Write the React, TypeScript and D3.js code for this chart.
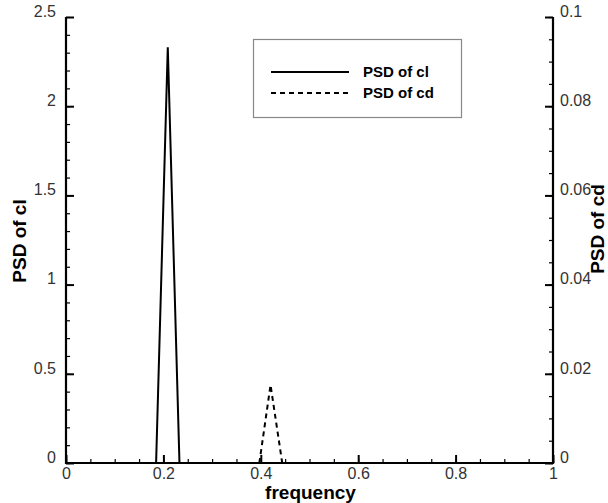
import React, { useRef, useEffect } from 'react';
import * as d3 from 'd3';

// spectra
const clFreq = [0.0, 0.185, 0.209, 0.233, 1.0];
const clPsd = [0, 0, 2.33, 0, 0];
const cdFreq = [0.397, 0.42, 0.444];
const cdPsd = [0, 0.0175, 0];

const xTicks = [0, 0.2, 0.4, 0.6, 0.8, 1];
const clTicks = [0, 0.5, 1, 1.5, 2, 2.5];
const cdTicks = [0, 0.02, 0.04, 0.06, 0.08, 0.1];
const legendLabels = ['PSD of cl', 'PSD of cd'];

const W = 608;
const H = 503;
const margin = { left: 66, right: 55, top: 17, bottom: 40 };
const FONT = 'Liberation Sans, Arial, sans-serif';

const App = () => {
  const svgRef = useRef<SVGSVGElement>(null);

  useEffect(() => {
    const svg = d3.select(svgRef.current);
    svg.selectAll('*').remove();

    const x = d3.scaleLinear().domain([0, 1]).range([margin.left, W - margin.right]);
    const yL = d3.scaleLinear().domain([0, 2.5]).range([H - margin.bottom, margin.top]);
    const yR = d3.scaleLinear().domain([0, 0.1]).range([H - margin.bottom, margin.top]);

    const tickText = (g) =>
      g.selectAll('text').attr('font-family', FONT).attr('font-size', 16).attr('fill', '#333');

    // minor ticks first
    svg.append('g')
      .attr('transform', `translate(0,${H - margin.bottom})`)
      .call(d3.axisBottom(x).tickValues(d3.range(0, 1.0001, 0.05)).tickSize(-4).tickFormat(() => ''))
      .call((g) => g.select('.domain').remove())
      .selectAll('line').attr('stroke-width', 1.2);
    svg.append('g')
      .attr('transform', `translate(${margin.left},0)`)
      .call(d3.axisLeft(yL).tickValues(d3.range(0, 2.5001, 0.1)).tickSize(-4).tickFormat(() => ''))
      .call((g) => g.select('.domain').remove())
      .selectAll('line').attr('stroke-width', 1.2);
    svg.append('g')
      .attr('transform', `translate(${W - margin.right},0)`)
      .call(d3.axisRight(yR).tickValues(d3.range(0, 0.10001, 0.005)).tickSize(-4).tickFormat(() => ''))
      .call((g) => g.select('.domain').remove())
      .selectAll('line').attr('stroke-width', 1.2);

    // major ticks
    svg.append('g')
      .attr('transform', `translate(0,${H - margin.bottom})`)
      .call(d3.axisBottom(x).tickValues(xTicks).tickSize(-8).tickPadding(5).tickFormat(d3.format('')))
      .call((g) => g.select('.domain').remove())
      .call((g) => g.selectAll('line').attr('stroke-width', 2))
      .call(tickText);
    svg.append('g')
      .attr('transform', `translate(${margin.left},0)`)
      .call(d3.axisLeft(yL).tickValues(clTicks).tickSize(-8).tickPadding(10).tickFormat(d3.format('')))
      .call((g) => g.select('.domain').remove())
      .call((g) => g.selectAll('line').attr('stroke-width', 2))
      .call(tickText)
      .call((g) => g.selectAll('text').attr('dy', '-0.05em'));
    svg.append('g')
      .attr('transform', `translate(${W - margin.right},0)`)
      .call(d3.axisRight(yR).tickValues(cdTicks).tickSize(-8).tickPadding(7).tickFormat(d3.format('')))
      .call((g) => g.select('.domain').remove())
      .call((g) => g.selectAll('line').attr('stroke-width', 2))
      .call(tickText)
      .call((g) => g.selectAll('text').attr('dy', '-0.05em'));

    // axis lines (no top border)
    const axisPath = d3.path();
    axisPath.moveTo(x(0), yL(2.5));
    axisPath.lineTo(x(0), yL(0));
    axisPath.lineTo(x(1), yL(0));
    axisPath.lineTo(x(1), yR(0.1));
    svg.append('path').attr('d', axisPath.toString()).attr('fill', 'none')
      .attr('stroke', '#000').attr('stroke-width', 2.2);

    // data
    const clLine = d3.line<number>().x((d, i) => x(clFreq[i])).y((d) => yL(d));
    const cdLine = d3.line<number>().x((d, i) => x(cdFreq[i])).y((d) => yR(d));
    svg.append('path').attr('d', clLine(clPsd)).attr('fill', 'none')
      .attr('stroke', '#000').attr('stroke-width', 2);
    svg.append('path').attr('d', cdLine(cdPsd)).attr('fill', 'none')
      .attr('stroke', '#000').attr('stroke-width', 2).attr('stroke-dasharray', '5,4');

    // axis titles
    svg.append('text').attr('x', (x(0) + x(1)) / 2 + 1).attr('y', 499)
      .attr('text-anchor', 'middle').attr('font-family', FONT).attr('font-weight', 'bold')
      .attr('font-size', 19).text('frequency');
    svg.append('text').attr('transform', `translate(26,241) rotate(-90)`)
      .attr('text-anchor', 'middle').attr('font-family', FONT).attr('font-weight', 'bold')
      .attr('font-size', 19).text('PSD of cl');
    svg.append('text').attr('transform', `translate(604,229) rotate(-90)`)
      .attr('text-anchor', 'middle').attr('font-family', FONT).attr('font-weight', 'bold')
      .attr('font-size', 19).text('PSD of cd');

    // legend
    const lg = svg.append('g');
    lg.append('rect').attr('x', 253.5).attr('y', 39.5).attr('width', 208).attr('height', 78)
      .attr('fill', '#fff').attr('stroke', '#888').attr('stroke-width', 1.2);
    legendLabels.forEach((lab, i) => {
      const yy = 72 + i * 21;
      lg.append('line').attr('x1', 271).attr('x2', 349).attr('y1', yy).attr('y2', yy)
        .attr('stroke', '#000').attr('stroke-width', 2)
        .attr('stroke-dasharray', i === 1 ? '5,4' : null);
      lg.append('text').attr('x', 363).attr('y', yy + 5).attr('font-family', FONT)
        .attr('font-weight', 'bold').attr('font-size', 15).text(lab);
    });
  }, []);

  return (
    <svg ref={svgRef} width={W} height={H}
      style={{ position: 'absolute', left: 0, top: 0, display: 'block', background: '#fff' }} />
  );
};

export default App;
